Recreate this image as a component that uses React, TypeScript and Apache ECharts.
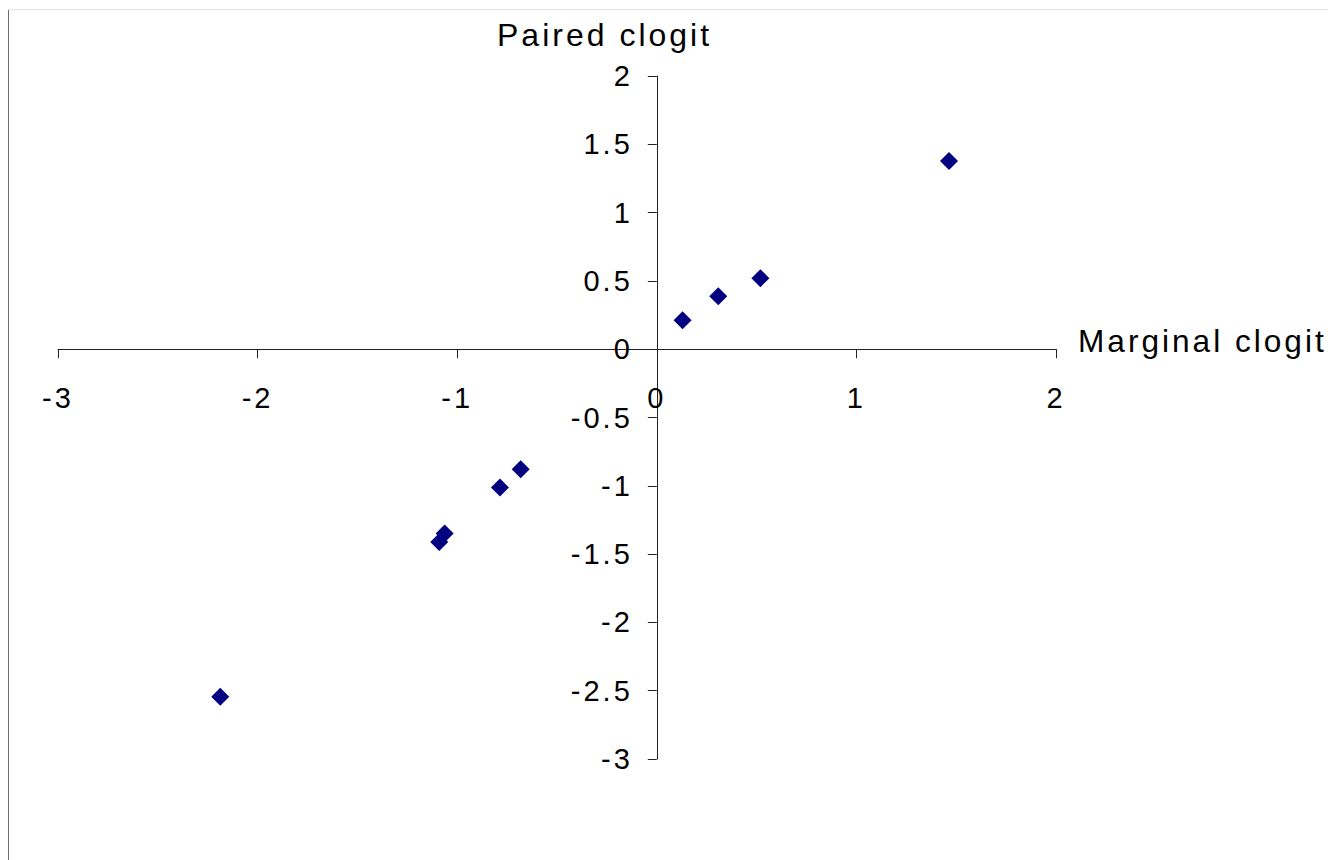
import React, { useEffect, useRef } from "react";
import * as echarts from "echarts";

const marginalClogit = [1.464, 0.519, 0.308, 0.129, -0.682, -0.786, -1.063, -1.09, -2.187];
const pairedClogit = [1.377, 0.52, 0.388, 0.212, -0.879, -1.013, -1.35, -1.412, -2.544];
const xTitle = "Marginal clogit";
const yTitle = "Paired clogit";

export default function App() {
  const ref = useRef<HTMLDivElement>(null);
  useEffect(() => {
    if (!ref.current) return;
    const chart = echarts.init(ref.current, null, { renderer: "svg" });
    const font = "'Liberation Sans', Arial, sans-serif";
    const data = marginalClogit.map((x, i) => [x, pairedClogit[i]]);
    const gridLeft = 58;
    const gridTop = 76;
    const gridW = 998;
    const gridH = 683;
    // offsets so that the axes cross at (0, 0)
    const xOffset = -(gridH * (0 - -3)) / 5;
    const yOffset = -(gridW * (0 - -3)) / 5;
    chart.setOption({
      animation: false,
      backgroundColor: "#ffffff",
      grid: {
        left: gridLeft,
        top: gridTop,
        width: gridW,
        height: gridH,
        containLabel: false,
        outerBoundsMode: "none",
      },
      xAxis: {
        type: "value",
        min: -3,
        max: 2,
        interval: 1,
        position: "bottom",
        offset: xOffset,
        splitLine: { show: false },
        axisLine: { onZero: false, lineStyle: { color: "#222", width: 1 } },
        axisTick: { show: true, length: 9, lineStyle: { color: "#222" } },
        axisLabel: { color: "#000", fontSize: 29, fontFamily: font, margin: 34, hideOverlap: false },
      },
      yAxis: {
        type: "value",
        min: -3,
        max: 2,
        interval: 0.5,
        position: "left",
        offset: yOffset,
        splitLine: { show: false },
        axisLine: { onZero: false, lineStyle: { color: "#222", width: 1 } },
        axisTick: { show: true, length: 9, lineStyle: { color: "#222" } },
        axisLabel: { color: "#000", fontSize: 29, fontFamily: font, margin: 24, hideOverlap: false },
      },
      series: [
        {
          type: "scatter",
          data,
          symbol: "diamond",
          symbolSize: 18,
          itemStyle: { color: "#000080", opacity: 1 },
        },
      ],
      graphic: [
        { type: "line", shape: { x1: 8.5, y1: 9, x2: 8.5, y2: 860 }, style: { stroke: "#6e6e6e", lineWidth: 1 } },
        { type: "line", shape: { x1: 8, y1: 9.5, x2: 1328, y2: 9.5 }, style: { stroke: "#e4e4e4", lineWidth: 1 } },
        {
          type: "text",
          x: 497,
          y: 35,
          style: { text: yTitle, fill: "#000", font: `32px ${font}`, textAlign: "left", textVerticalAlign: "middle" },
        },
        {
          type: "text",
          x: 1078,
          y: 341,
          style: { text: xTitle, fill: "#000", font: `31.6px ${font}`, textAlign: "left", textVerticalAlign: "middle" },
        },
      ],
    });
    return () => chart.dispose();
  }, []);
  return (
    <>
      <style>{`body{margin:0} #chart svg text{letter-spacing:3px}`}</style>
      <div id="chart" ref={ref} style={{ position: "fixed", left: 0, top: 0, width: 1328, height: 860 }} />
    </>
  );
}
